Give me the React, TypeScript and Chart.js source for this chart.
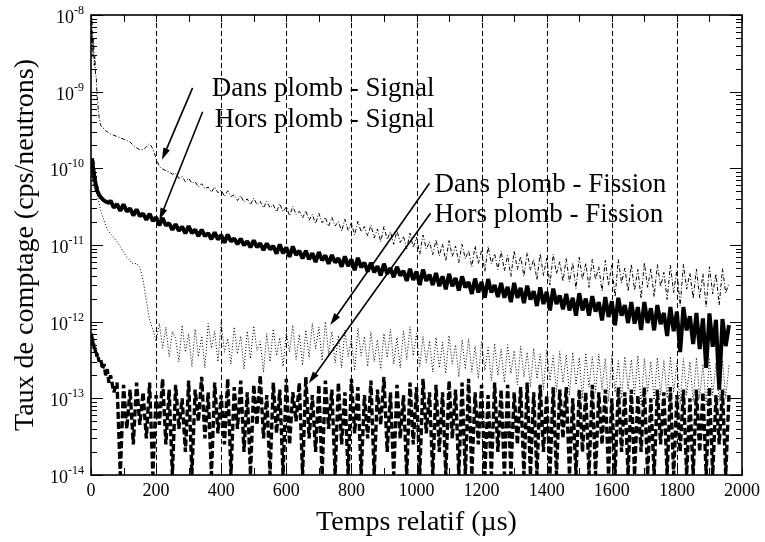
import React, { useEffect, useRef } from "react";
import { Chart, registerables } from "chart.js";

Chart.register(...registerables);

// Time axis (µs)
const timeUs: number[] = [
  1, 2, 3, 4, 5, 6, 8, 10, 12, 14,
  16, 18, 20, 25, 30, 35, 40, 45, 50, 55,
  60, 70, 80, 90, 100, 110, 120, 130, 140, 150,
  160, 170, 180, 190, 200, 210, 220, 230, 240, 250,
  260, 270, 280, 290, 300, 310, 320, 330, 340, 350,
  360, 370, 380, 390, 400, 410, 420, 430, 440, 450,
  460, 470, 480, 490, 500, 510, 520, 530, 540, 550,
  560, 570, 580, 590, 600, 610, 620, 630, 640, 650,
  660, 670, 680, 690, 700, 710, 720, 730, 740, 750,
  760, 770, 780, 790, 800, 810, 820, 830, 840, 850,
  860, 870, 880, 890, 900, 910, 920, 930, 940, 950,
  960, 970, 980, 990, 1000, 1010, 1020, 1030, 1040, 1050,
  1060, 1070, 1080, 1090, 1100, 1110, 1120, 1130, 1140, 1150,
  1160, 1170, 1180, 1190, 1200, 1210, 1220, 1230, 1240, 1250,
  1260, 1270, 1280, 1290, 1300, 1310, 1320, 1330, 1340, 1350,
  1360, 1370, 1380, 1390, 1400, 1410, 1420, 1430, 1440, 1450,
  1460, 1470, 1480, 1490, 1500, 1510, 1520, 1530, 1540, 1550,
  1560, 1570, 1580, 1590, 1600, 1610, 1620, 1630, 1640, 1650,
  1660, 1670, 1680, 1690, 1700, 1710, 1720, 1730, 1740, 1750,
  1760, 1770, 1780, 1790, 1800, 1810, 1820, 1830, 1840, 1850,
  1860, 1870, 1880, 1890, 1900, 1910, 1920, 1930, 1940, 1950,
  1960,
];

// Dans plomb - Signal (cps/neutrons)
const dansPlombSignal: number[] = [
  8.0e-9, 4.5e-9, 9.0e-9, 3.5e-9, 6.0e-9, 2.8e-9, 5.0e-9, 2.2e-9, 3.0e-9, 1.6e-9,
  1.6e-9, 1.0e-9, 7.5e-10, 4.6e-10, 3.6e-10, 3.4e-10, 3.3e-10, 3.1e-10, 3.0e-10, 2.9e-10,
  2.8e-10, 2.7e-10, 2.6e-10, 2.5e-10, 2.4e-10, 2.3e-10, 2.2e-10, 2.0e-10, 1.85e-10, 1.75e-10,
  1.75e-10, 1.9e-10, 2.1e-10, 1.8e-10, 1.35e-10, 1.05e-10, 9.8e-11, 9.3e-11, 9.0e-11, 8.4e-11,
  8.6e-11, 7.4e-11, 7.8e-11, 6.7e-11, 7.4e-11, 6.4e-11, 6.7e-11, 5.7e-11, 6.3e-11, 5.4e-11,
  5.7e-11, 4.9e-11, 5.7e-11, 4.8e-11, 5.2e-11, 4.3e-11, 5.1e-11, 4.3e-11, 4.5e-11, 3.8e-11,
  4.4e-11, 3.6e-11, 4.0e-11, 3.35e-11, 4.1e-11, 3.35e-11, 3.7e-11, 3.05e-11, 3.7e-11, 3.05e-11,
  3.35e-11, 2.7e-11, 3.45e-11, 2.7e-11, 3.15e-11, 2.4e-11, 3.2e-11, 2.5e-11, 2.75e-11, 2.25e-11,
  2.8e-11, 2.1e-11, 2.5e-11, 1.9e-11, 2.6e-11, 1.95e-11, 2.3e-11, 1.75e-11, 2.3e-11, 1.77e-11,
  2.02e-11, 1.52e-11, 2.16e-11, 1.55e-11, 1.95e-11, 1.35e-11, 2.04e-11, 1.48e-11, 1.74e-11, 1.31e-11,
  1.82e-11, 1.24e-11, 1.62e-11, 1.1e-11, 1.74e-11, 1.18e-11, 1.49e-11, 1.02e-11, 1.54e-11, 1.08e-11,
  1.3e-11, 8.9e-12, 1.43e-11, 9.2e-12, 1.27e-11, 7.6e-12, 1.35e-11, 8.85e-12, 1.1e-11, 7.5e-12,
  1.17e-11, 7.2e-12, 1.03e-11, 6.2e-12, 1.14e-11, 7.1e-12, 9.7e-12, 5.9e-12, 1.02e-11, 6.6e-12,
  8.5e-12, 5.2e-12, 9.7e-12, 5.7e-12, 8.6e-12, 4.5e-12, 9.6e-12, 5.7e-12, 7.7e-12, 4.8e-12,
  8.3e-12, 4.6e-12, 7.3e-12, 3.9e-12, 8.4e-12, 4.8e-12, 7.1e-12, 3.9e-12, 7.9e-12, 4.7e-12,
  6.5e-12, 3.5e-12, 7.7e-12, 4.0e-12, 6.7e-12, 3.0e-12, 7.6e-12, 4.2e-12, 6.05e-12, 3.35e-12,
  6.6e-12, 3.3e-12, 5.8e-12, 2.7e-12, 6.9e-12, 3.55e-12, 5.8e-12, 2.8e-12, 6.5e-12, 3.55e-12,
  5.2e-12, 2.5e-12, 6.3e-12, 3.0e-12, 5.5e-12, 2.1e-12, 6.45e-12, 3.2e-12, 5.0e-12, 2.5e-12,
  5.6e-12, 2.55e-12, 4.8e-12, 2.0e-12, 5.9e-12, 2.8e-12, 4.85e-12, 2.1e-12, 5.55e-12, 2.85e-12,
  4.4e-12, 1.95e-12, 5.45e-12, 2.4e-12, 4.75e-12, 1.6e-12, 5.6e-12, 2.65e-12, 4.3e-12, 2.0e-12,
  4.85e-12, 2.05e-12, 4.2e-12, 1.55e-12, 5.2e-12, 2.3e-12, 4.2e-12, 1.65e-12, 4.9e-12, 2.35e-12,
  3.2e-12,
];

// Hors plomb - Signal
const horsPlombSignal: number[] = [
  1.1e-10, 1.3e-10, 1.35e-10, 1.25e-10, 1.15e-10, 1.05e-10, 9.3e-11, 7.9e-11, 7.1e-11, 6.3e-11,
  5.8e-11, 5.2e-11, 5.0e-11, 4.5e-11, 4.2e-11, 4.0e-11, 3.8e-11, 3.7e-11, 3.6e-11, 3.55e-11,
  3.8e-11, 3.07e-11, 3.42e-11, 2.78e-11, 3.4e-11, 2.73e-11, 3.0e-11, 2.43e-11, 2.91e-11, 2.38e-11,
  2.57e-11, 2.13e-11, 2.56e-11, 2.06e-11, 2.3e-11, 1.8e-11, 2.25e-11, 1.8e-11, 1.92e-11, 1.58e-11,
  1.87e-11, 1.53e-11, 1.73e-11, 1.42e-11, 1.76e-11, 1.43e-11, 1.59e-11, 1.31e-11, 1.59e-11, 1.31e-11,
  1.42e-11, 1.19e-11, 1.46e-11, 1.18e-11, 1.35e-11, 1.07e-11, 1.37e-11, 1.11e-11, 1.22e-11, 1.02e-11,
  1.21e-11, 9.9e-12, 1.12e-11, 9.3e-12, 1.15e-11, 9.4e-12, 1.05e-11, 8.6e-12, 1.05e-11, 8.8e-12,
  9.7e-12, 7.7e-12, 1.02e-11, 7.8e-12, 9.3e-12, 7.0e-12, 9.6e-12, 7.4e-12, 8.4e-12, 6.7e-12,
  8.4e-12, 6.5e-12, 7.8e-12, 6.0e-12, 8.1e-12, 6.3e-12, 7.3e-12, 5.7e-12, 7.4e-12, 5.9e-12,
  6.7e-12, 5.2e-12, 7.1e-12, 5.3e-12, 6.5e-12, 4.7e-12, 6.8e-12, 5.1e-12, 5.9e-12, 4.5e-12,
  5.9e-12, 4.4e-12, 5.3e-12, 4.0e-12, 5.7e-12, 4.2e-12, 5.0e-12, 3.8e-12, 5.2e-12, 4.0e-12,
  4.6e-12, 3.4e-12, 4.9e-12, 3.5e-12, 4.5e-12, 3.0e-12, 4.8e-12, 3.4e-12, 4.1e-12, 3.0e-12,
  4.3e-12, 2.9e-12, 3.9e-12, 2.65e-12, 4.2e-12, 2.9e-12, 3.7e-12, 2.55e-12, 3.9e-12, 2.8e-12,
  3.3e-12, 2.3e-12, 3.65e-12, 2.4e-12, 3.3e-12, 2.05e-12, 3.6e-12, 2.4e-12, 3.0e-12, 2.1e-12,
  3.2e-12, 2.05e-12, 2.85e-12, 1.8e-12, 3.2e-12, 2.05e-12, 2.75e-12, 1.75e-12, 2.95e-12, 1.95e-12,
  2.5e-12, 1.6e-12, 2.8e-12, 1.7e-12, 2.45e-12, 1.4e-12, 2.7e-12, 1.7e-12, 2.2e-12, 1.45e-12,
  2.3e-12, 1.4e-12, 2.05e-12, 1.2e-12, 2.35e-12, 1.4e-12, 2.0e-12, 1.2e-12, 2.15e-12, 1.35e-12,
  1.8e-12, 1.04e-12, 2.1e-12, 1.15e-12, 1.85e-12, 9.0e-13, 2.05e-12, 1.2e-12, 1.65e-12, 9.6e-13,
  1.8e-12, 9.4e-13, 1.55e-12, 7.8e-13, 1.8e-12, 9.6e-13, 1.5e-12, 7.7e-13, 1.65e-12, 9.3e-13,
  1.3e-12, 6.5e-13, 1.55e-12, 7.5e-13, 1.35e-12, 4.0e-13, 1.55e-12, 7.7e-13, 1.18e-12, 5.1e-13,
  1.3e-12, 4.4e-13, 1.1e-12, 2.5e-13, 1.28e-12, 4.7e-13, 1.06e-12, 1.3e-13, 1.08e-12, 4.8e-13,
  9.0e-13,
];

// Dans plomb - Fission
const dansPlombFission: number[] = [
  9.0e-11, 8.0e-11, 8.5e-11, 7.0e-11, 7.5e-11, 6.3e-11, 5.8e-11, 5.5e-11, 5.2e-11, 5.0e-11,
  4.9e-11, 4.7e-11, 4.3e-11, 3.5e-11, 2.8e-11, 2.4e-11, 2.1e-11, 1.8e-11, 1.6e-11, 1.5e-11,
  1.4e-11, 1.25e-11, 1.1e-11, 9.5e-12, 8.0e-12, 7.0e-12, 6.2e-12, 5.6e-12, 5.8e-12, 5.1e-12,
  3.5e-12, 1.9e-12, 1.05e-12, 8.0e-13, 5.5e-13, 9.5e-13, 4.5e-13, 8.5e-13, 3.5e-13, 7.5e-13,
  6.0e-13, 3.0e-13, 9.0e-13, 4.0e-13, 7.0e-13, 2.6e-13, 8.0e-13, 3.5e-13, 6.5e-13, 2.5e-13,
  9.5e-13, 4.5e-13, 7.5e-13, 3.0e-13, 1.0e-12, 4.0e-13, 6.0e-13, 2.8e-13, 8.5e-13, 3.8e-13,
  6.5e-13, 2.4e-13, 7.5e-13, 3.3e-13, 8.8e-13, 4.2e-13, 5.5e-13, 2.2e-13, 7.0e-13, 3.0e-13,
  8.0e-13, 3.6e-13, 6.2e-13, 2.6e-13, 7.2e-13, 4.0e-13, 9.0e-13, 3.2e-13, 6.8e-13, 2.7e-13,
  7.8e-13, 3.4e-13, 9.5e-13, 4.4e-13, 8.5e-13, 3.1e-13, 1.0e-12, 3.8e-13, 7.4e-13, 2.9e-13,
  6.6e-13, 2.5e-13, 7.8e-13, 3.5e-13, 6.0e-13, 2.3e-13, 8.2e-13, 3.6e-13, 6.4e-13, 2.6e-13,
  7.4e-13, 3.0e-13, 5.8e-13, 2.4e-13, 7.0e-13, 3.4e-13, 8.0e-13, 2.8e-13, 6.2e-13, 2.5e-13,
  7.6e-13, 3.2e-13, 8.6e-13, 3.6e-13, 7.0e-13, 2.6e-13, 6.4e-13, 2.9e-13, 5.6e-13, 2.2e-13,
  6.2e-13, 2.5e-13, 5.4e-13, 2.1e-13, 6.6e-13, 2.8e-13, 5.0e-13, 1.9e-13, 5.8e-13, 2.4e-13,
  6.0e-13, 2.2e-13, 4.8e-13, 1.8e-13, 5.6e-13, 2.3e-13, 4.6e-13, 1.7e-13, 5.2e-13, 2.0e-13,
  4.4e-13, 1.6e-13, 5.0e-13, 2.1e-13, 4.2e-13, 1.5e-13, 4.8e-13, 1.9e-13, 4.0e-13, 1.4e-13,
  4.5e-13, 1.8e-13, 3.8e-13, 1.3e-13, 4.3e-13, 1.7e-13, 3.6e-13, 1.2e-13, 4.1e-13, 1.6e-13,
  3.7e-13, 1.1e-13, 4.0e-13, 1.5e-13, 3.4e-13, 1.0e-13, 3.9e-13, 1.4e-13, 3.5e-13, 1.2e-13,
  3.8e-13, 1.3e-13, 3.3e-13, 9.0e-14, 3.6e-13, 1.2e-13, 3.1e-13, 1.0e-13, 3.5e-13, 1.3e-13,
  3.2e-13, 1.1e-13, 3.6e-13, 8.0e-14, 3.3e-13, 1.2e-13, 3.0e-13, 9.5e-14, 3.4e-13, 1.1e-13,
  3.1e-13, 1.0e-13, 3.5e-13, 1.2e-13, 2.9e-13, 8.5e-14, 3.3e-13, 1.1e-13, 3.0e-13, 9.0e-14,
  3.4e-13, 1.0e-13, 2.8e-13, 8.0e-14, 3.2e-13, 1.1e-13, 2.9e-13, 9.0e-14, 3.1e-13, 1.0e-13,
  2.7e-13,
];

// Hors plomb - Fission (0 = no count)
const horsPlombFission: number[] = [
  7.0e-13, 6.5e-13, 6.3e-13, 5.5e-13, 6.0e-13, 4.8e-13, 5.2e-13, 4.4e-13, 4.7e-13, 3.9e-13,
  4.2e-13, 3.5e-13, 3.8e-13, 3.0e-13, 3.3e-13, 2.4e-13, 2.8e-13, 2.0e-13, 2.4e-13, 1.6e-13,
  2.0e-13, 1.2e-13, 1.6e-13, 0, 1.5e-13, 4.0e-14, 1.3e-13, 2.5e-14, 1.6e-13, 4.5e-14,
  1.2e-13, 3.0e-14, 1.6e-13, 0, 1.1e-13, 4.5e-14, 1.8e-13, 2.5e-14, 1.3e-13, 0,
  1.5e-13, 4.0e-14, 1.0e-13, 2.0e-14, 1.7e-13, 0, 1.3e-13, 5.0e-14, 1.9e-13, 3.0e-14,
  1.2e-13, 0, 1.6e-13, 3.5e-14, 1.1e-13, 2.5e-14, 1.8e-13, 0, 1.4e-13, 4.0e-14,
  1.7e-13, 2.0e-14, 1.2e-13, 0, 1.5e-13, 4.5e-14, 2.0e-13, 3.0e-14, 1.1e-13, 0,
  1.6e-13, 3.5e-14, 1.3e-13, 0, 1.8e-13, 2.5e-14, 1.2e-13, 5.0e-14, 1.6e-13, 0,
  1.9e-13, 3.0e-14, 1.1e-13, 2.0e-14, 1.5e-13, 0, 1.7e-13, 4.0e-14, 1.3e-13, 0,
  1.6e-13, 2.5e-14, 1.2e-13, 0, 1.8e-13, 3.5e-14, 1.4e-13, 0, 1.1e-13, 3.0e-14,
  1.7e-13, 0, 1.3e-13, 4.5e-14, 1.9e-13, 2.0e-14, 1.2e-13, 0, 1.5e-13, 3.0e-14,
  1.1e-13, 0, 1.6e-13, 2.5e-14, 1.4e-13, 0, 1.8e-13, 3.5e-14, 1.2e-13, 0,
  1.5e-13, 2.0e-14, 1.2e-13, 0, 1.7e-13, 3.0e-14, 1.3e-13, 0, 1.6e-13, 0,
  1.8e-13, 0, 1.2e-13, 2.5e-14, 1.5e-13, 0, 1.1e-13, 0, 1.6e-13, 2.0e-14,
  1.3e-13, 0, 1.5e-13, 0, 1.2e-13, 2.5e-14, 1.4e-13, 0, 1.6e-13, 0,
  1.2e-13, 0, 1.5e-13, 2.0e-14, 1.1e-13, 0, 1.4e-13, 0, 1.3e-13, 3.0e-14,
  1.4e-13, 0, 1.0e-13, 0, 1.3e-13, 2.0e-14, 1.2e-13, 0, 1.5e-13, 0,
  1.2e-13, 2.5e-14, 1.3e-13, 0, 1.0e-13, 0, 1.4e-13, 2.0e-14, 1.2e-13, 0,
  1.3e-13, 0, 1.1e-13, 2.0e-14, 1.4e-13, 0, 1.0e-13, 0, 1.3e-13, 2.5e-14,
  1.2e-13, 0, 1.4e-13, 0, 1.1e-13, 2.0e-14, 1.3e-13, 0, 1.0e-13, 0,
  1.3e-13, 2.0e-14, 1.2e-13, 0, 1.4e-13, 0, 1.1e-13, 2.5e-14, 1.3e-13, 0,
  1.1e-13,
];

const xTickValues = [0, 200, 400, 600, 800, 1000, 1200, 1400, 1600, 1800, 2000];
const xGridValues = [200, 400, 600, 800, 1000, 1200, 1400, 1600, 1800];
const xMinorTickValues = [100, 300, 500, 700, 900, 1100, 1300, 1500, 1700, 1900];
const yTickValues = [1e-8, 1e-9, 1e-10, 1e-11, 1e-12, 1e-13, 1e-14];
const yTickExponents = ["-8", "-9", "-10", "-11", "-12", "-13", "-14"];
const yMinorMultipliers = [2, 3, 4, 5, 6, 7, 8, 9];

const xTitle = "Temps relatif (µs)";
const yTitle = "Taux de comptage (cps/neutrons)";

type Note = {
  text: string;
  textX: number;
  textY: number;
  align: "left" | "right";
  fromX: number;
  fromY: number;
  toX: number;
  toY: number;
};

const notes: Note[] = [
  { text: "Dans plomb - Signal", textX: 1055, textY: 8.65e-10, align: "right", fromX: 312, fromY: 1.12e-9, toX: 218, toY: 1.29e-10 },
  { text: "Hors plomb - Signal", textX: 1055, textY: 3.46e-10, align: "right", fromX: 343, fromY: 5.48e-10, toX: 210, toY: 2.12e-11 },
  { text: "Dans plomb - Fission", textX: 1055, textY: 4.9e-11, align: "left", fromX: 1040, fromY: 6.38e-11, toX: 735, toY: 9.06e-13 },
  { text: "Hors plomb - Fission", textX: 1055, textY: 2.0e-11, align: "left", fromX: 1043, fromY: 2.6e-11, toX: 669, toY: 1.57e-13 },
];

const FONT = '"Liberation Serif", "Times New Roman", serif';

const toPoints = (vals: number[]) => timeUs.map((t, i) => ({ x: t, y: vals[i] }));

function drawArrow(ctx: CanvasRenderingContext2D, x1: number, y1: number, x2: number, y2: number) {
  const ang = Math.atan2(y2 - y1, x2 - x1);
  const len = 12;
  const half = 3.5;
  const bx = x2 - len * Math.cos(ang);
  const by = y2 - len * Math.sin(ang);
  ctx.beginPath();
  ctx.moveTo(x1, y1);
  ctx.lineTo(bx + 2 * Math.cos(ang), by + 2 * Math.sin(ang));
  ctx.stroke();
  ctx.beginPath();
  ctx.moveTo(x2, y2);
  ctx.lineTo(bx + half * Math.sin(ang), by - half * Math.cos(ang));
  ctx.lineTo(bx - half * Math.sin(ang), by + half * Math.cos(ang));
  ctx.closePath();
  ctx.fill();
}

const decorPlugin = {
  id: "decor",
  beforeDraw(chart: any) {
    const ctx = chart.ctx;
    ctx.save();
    ctx.fillStyle = "#fff";
    ctx.fillRect(0, 0, chart.width, chart.height);
    ctx.restore();
  },
  beforeDatasetsDraw(chart: any) {
    const { ctx, chartArea } = chart;
    const xs = chart.scales.x;
    ctx.save();
    ctx.strokeStyle = "#000";
    ctx.lineWidth = 1;
    ctx.setLineDash([5, 3]);
    for (const v of xGridValues) {
      const px = Math.round(xs.getPixelForValue(v)) + 0.5;
      ctx.beginPath();
      ctx.moveTo(px, chartArea.top);
      ctx.lineTo(px, chartArea.bottom);
      ctx.stroke();
    }
    ctx.restore();
  },
  afterDraw(chart: any) {
    const { ctx, chartArea } = chart;
    const xs = chart.scales.x;
    const ys = chart.scales.y;
    const { left, right, top, bottom } = chartArea;
    ctx.save();
    ctx.strokeStyle = "#000";
    ctx.fillStyle = "#000";
    ctx.setLineDash([]);

    ctx.lineWidth = 1.6;
    ctx.strokeRect(left, top, right - left, bottom - top);

    ctx.lineWidth = 1;
    for (const v of [...xTickValues, ...xMinorTickValues]) {
      const px = Math.round(xs.getPixelForValue(v)) + 0.5;
      ctx.beginPath();
      ctx.moveTo(px, bottom);
      ctx.lineTo(px, bottom - 7);
      ctx.moveTo(px, top);
      ctx.lineTo(px, top + 7);
      ctx.stroke();
    }

    yTickValues.forEach((v) => {
      const py = Math.round(ys.getPixelForValue(v)) + 0.5;
      ctx.beginPath();
      ctx.moveTo(left, py);
      ctx.lineTo(left + 12, py);
      ctx.moveTo(right, py);
      ctx.lineTo(right - 12, py);
      ctx.stroke();
      if (v < 1e-8) {
        for (const m of yMinorMultipliers) {
          const pm = Math.round(ys.getPixelForValue(v * m)) + 0.5;
          ctx.beginPath();
          ctx.moveTo(left, pm);
          ctx.lineTo(left + 6, pm);
          ctx.moveTo(right, pm);
          ctx.lineTo(right - 6, pm);
          ctx.stroke();
        }
      }
    });

    yTickValues.forEach((v, i) => {
      const py = ys.getPixelForValue(v);
      const labelRight = left - 7;
      ctx.font = `12px ${FONT}`;
      const expW = ctx.measureText(yTickExponents[i]).width;
      ctx.textAlign = "left";
      ctx.textBaseline = "alphabetic";
      ctx.fillText(yTickExponents[i], labelRight - expW, py - 1);
      ctx.font = `18px ${FONT}`;
      ctx.textAlign = "right";
      ctx.fillText("10", labelRight - expW, py + 8);
    });

    ctx.font = `28px ${FONT}`;
    ctx.textAlign = "center";
    ctx.textBaseline = "alphabetic";
    ctx.fillText(xTitle, (left + right) / 2, 530);
    ctx.save();
    ctx.translate(33, (top + bottom) / 2);
    ctx.rotate(-Math.PI / 2);
    ctx.fillText(yTitle, 0, 0);
    ctx.restore();

    ctx.font = `27px ${FONT}`;
    ctx.lineWidth = 1.6;
    for (const n of notes) {
      ctx.textAlign = n.align;
      ctx.fillText(n.text, xs.getPixelForValue(n.textX), ys.getPixelForValue(n.textY));
      drawArrow(
        ctx,
        xs.getPixelForValue(n.fromX),
        ys.getPixelForValue(n.fromY),
        xs.getPixelForValue(n.toX),
        ys.getPixelForValue(n.toY)
      );
    }
    ctx.restore();
  },
};

export default function App() {
  const canvasRef = useRef<HTMLCanvasElement | null>(null);

  useEffect(() => {
    if (!canvasRef.current) return;
    const chart = new Chart(canvasRef.current, {
      type: "line",
      data: {
        datasets: [
          {
            label: "Hors plomb - Fission",
            data: toPoints(horsPlombFission),
            borderColor: "#000",
            borderWidth: 3.4,
            borderDash: [7, 3],
            borderJoinStyle: "bevel",
            pointRadius: 0,
            order: 0,
          },
          {
            label: "Hors plomb - Signal",
            data: toPoints(horsPlombSignal),
            borderColor: "#000",
            borderWidth: 4,
            borderJoinStyle: "bevel",
            pointRadius: 0,
            order: 1,
          },
          {
            label: "Dans plomb - Signal",
            data: toPoints(dansPlombSignal),
            borderColor: "#000",
            borderWidth: 1,
            borderDash: [4, 2, 1, 2],
            pointRadius: 0,
            order: 2,
          },
          {
            label: "Dans plomb - Fission",
            data: toPoints(dansPlombFission),
            borderColor: "#000",
            borderWidth: 1,
            borderDash: [1, 2],
            pointRadius: 0,
            order: 3,
          },
        ],
      },
      options: {
        animation: false,
        responsive: false,
        devicePixelRatio: 1,
        parsing: false,
        spanGaps: true,
        clip: 0,
        layout: { padding: { top: 15, right: 18, left: 0, bottom: 0 } },
        plugins: {
          legend: { display: false },
          tooltip: { enabled: false },
        },
        elements: { line: { tension: 0 } },
        scales: {
          x: {
            type: "linear",
            min: 0,
            max: 2000,
            afterBuildTicks: (scale: any) => {
              scale.ticks = xTickValues.map((v) => ({ value: v }));
            },
            afterFit: (scale: any) => {
              scale.height = 67;
            },
            ticks: {
              font: { family: FONT, size: 18 },
              color: "#000",
              padding: 5,
              maxRotation: 0,
              autoSkip: false,
              callback: (v: any) => String(v),
            },
            grid: { display: false, drawTicks: false },
            border: { display: false },
          },
          y: {
            type: "logarithmic",
            min: 1e-14,
            max: 1e-8,
            afterFit: (scale: any) => {
              scale.width = 91;
            },
            ticks: { display: false },
            grid: { display: false, drawTicks: false },
            border: { display: false },
          },
        },
      } as any,
      plugins: [decorPlugin],
    });
    return () => chart.destroy();
  }, []);

  return (
    <div style={{ position: "absolute", left: 0, top: 0, width: 765, height: 542, background: "#fff" }}>
      <canvas ref={canvasRef} width={765} height={542} style={{ display: "block", width: 765, height: 542 }} />
    </div>
  );
}
